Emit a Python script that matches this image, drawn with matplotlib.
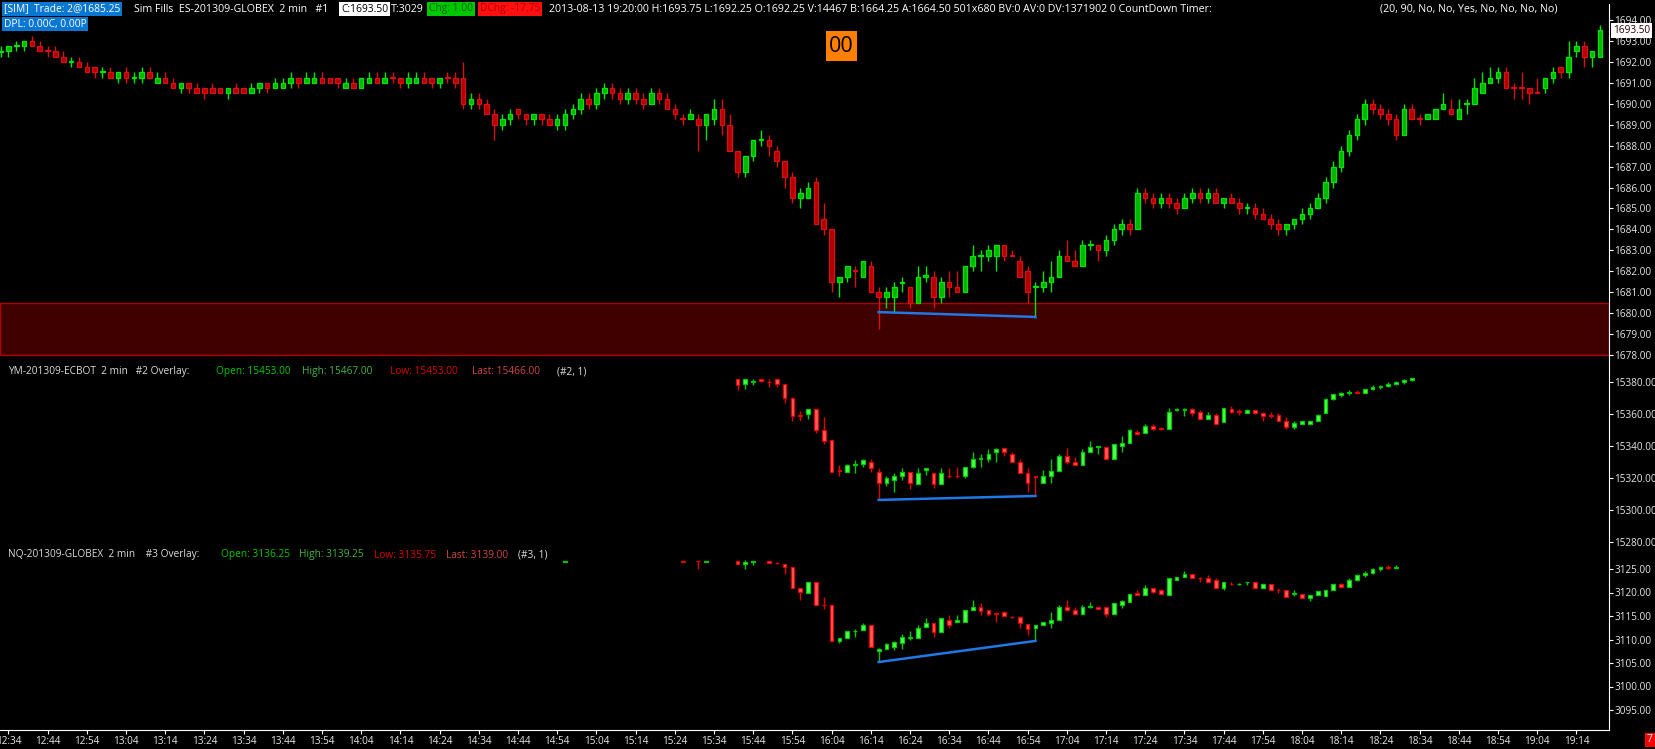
import numpy as np
import matplotlib
matplotlib.use('Agg')
import matplotlib.pyplot as plt
from matplotlib.patches import Rectangle

plt.rcParams['font.family'] = ['Open Sans', 'DejaVu Sans']

W, H = 1656, 749
DPI = 100

# ES bars, index 0 = 12:32, one bar every 2 minutes
es_open = [
    1692.45, 1692.50, 1692.75, 1692.75, 1693.00, 1692.75, 1692.55, 1692.50, 1692.25, 1692.00,
    1692.00, 1691.75, 1691.75, 1691.50, 1691.50, 1691.25, 1691.50, 1691.25, 1691.25, 1691.50,
    1691.00, 1691.25, 1691.00, 1690.75, 1691.00, 1690.75, 1690.75, 1690.75, 1690.75, 1690.50,
    1690.75, 1690.75, 1690.50, 1690.75, 1691.00, 1690.75, 1690.75, 1691.00, 1691.25, 1691.00,
    1691.00, 1691.25, 1691.25, 1691.25, 1690.75, 1691.00, 1690.75, 1691.00, 1691.25, 1691.00,
    1691.30, 1691.25, 1691.00, 1691.00, 1691.25, 1691.25, 1691.00, 1691.30, 1691.25, 1691.25,
    1690.00, 1690.25, 1690.00, 1689.50, 1689.00, 1689.25, 1689.75, 1689.50, 1689.25, 1689.50,
    1689.25, 1689.00, 1689.00, 1689.50, 1689.75, 1690.25, 1690.00, 1690.50, 1690.75, 1690.50,
    1690.25, 1690.50, 1690.25, 1690.00, 1690.50, 1690.25, 1689.75, 1689.30, 1689.25, 1689.25,
    1689.00, 1689.25, 1689.75, 1689.00, 1687.75, 1686.75, 1687.50, 1688.25, 1688.25, 1687.75,
    1687.25, 1686.50, 1685.50, 1685.50, 1686.25, 1684.50, 1684.00, 1681.50, 1681.75, 1682.05,
    1681.75, 1682.25, 1681.00, 1680.75, 1680.75, 1681.45, 1681.25, 1680.50, 1681.75, 1681.75,
    1680.75, 1681.50, 1681.25, 1681.00, 1682.25, 1682.75, 1682.75, 1682.75, 1683.25, 1682.80,
    1682.50, 1682.00, 1681.25, 1681.25, 1681.50, 1681.75, 1682.75, 1682.50, 1682.25, 1683.25,
    1683.25, 1683.00, 1683.50, 1684.00, 1684.25, 1684.00, 1685.75, 1685.50, 1685.25, 1685.50,
    1685.25, 1685.00, 1685.50, 1685.75, 1685.50, 1685.75, 1685.25, 1685.50, 1685.25, 1685.00,
    1685.00, 1684.75, 1684.50, 1684.25, 1684.00, 1684.25, 1684.50, 1684.75, 1685.00, 1685.50,
    1686.25, 1687.00, 1687.75, 1688.50, 1689.25, 1690.00, 1689.75, 1689.50, 1689.25, 1688.50,
    1689.75, 1689.30, 1689.25, 1689.25, 1689.75, 1689.75, 1689.25, 1690.00, 1690.00, 1690.50,
    1691.00, 1691.25, 1691.50, 1690.80, 1690.80, 1690.75, 1690.55, 1690.75, 1691.25, 1691.75,
    1691.50, 1692.50, 1692.75, 1692.25, 1692.25]
es_high = [
    1692.75, 1692.75, 1693.00, 1693.00, 1693.25, 1693.00, 1692.75, 1692.75, 1692.50, 1692.25,
    1692.25, 1692.00, 1691.75, 1691.75, 1691.75, 1691.50, 1691.75, 1691.50, 1691.75, 1691.75,
    1691.50, 1691.50, 1691.25, 1691.00, 1691.00, 1691.00, 1690.75, 1691.00, 1690.75, 1690.75,
    1691.00, 1690.75, 1691.00, 1691.00, 1691.00, 1691.25, 1691.25, 1691.50, 1691.25, 1691.50,
    1691.50, 1691.50, 1691.25, 1691.25, 1691.25, 1691.25, 1691.25, 1691.50, 1691.50, 1691.50,
    1691.50, 1691.25, 1691.50, 1691.50, 1691.50, 1691.25, 1691.25, 1691.50, 1691.50, 1692.00,
    1690.50, 1690.50, 1690.25, 1689.75, 1689.50, 1689.75, 1689.75, 1689.50, 1689.50, 1689.50,
    1689.50, 1689.50, 1689.75, 1690.00, 1690.50, 1690.50, 1690.75, 1691.00, 1691.00, 1690.75,
    1690.75, 1690.75, 1690.50, 1690.75, 1690.75, 1690.50, 1690.00, 1689.50, 1689.75, 1689.50,
    1689.50, 1690.25, 1690.25, 1689.50, 1687.75, 1687.50, 1688.25, 1688.75, 1688.50, 1688.00,
    1687.25, 1686.75, 1686.00, 1686.25, 1686.50, 1685.25, 1684.00, 1681.75, 1682.25, 1682.25,
    1682.50, 1682.50, 1681.25, 1681.25, 1681.50, 1681.75, 1681.25, 1682.25, 1682.25, 1682.00,
    1681.75, 1682.00, 1682.00, 1682.25, 1683.25, 1683.00, 1683.25, 1683.25, 1683.25, 1683.00,
    1682.75, 1682.25, 1681.50, 1682.00, 1682.50, 1683.00, 1683.50, 1683.00, 1683.50, 1683.50,
    1683.25, 1683.75, 1684.25, 1684.50, 1684.50, 1686.00, 1686.00, 1685.75, 1685.75, 1685.75,
    1685.50, 1685.75, 1686.00, 1686.00, 1686.00, 1686.00, 1685.50, 1685.75, 1685.50, 1685.25,
    1685.25, 1685.00, 1684.75, 1684.50, 1684.25, 1684.50, 1685.00, 1685.25, 1685.75, 1686.50,
    1687.25, 1688.00, 1688.75, 1689.50, 1690.25, 1690.25, 1690.00, 1689.75, 1689.50, 1690.00,
    1690.00, 1689.50, 1689.50, 1689.75, 1690.50, 1690.25, 1690.25, 1690.25, 1691.25, 1691.50,
    1691.75, 1691.75, 1691.75, 1691.00, 1691.50, 1690.75, 1691.25, 1691.25, 1691.75, 1691.75,
    1693.00, 1693.00, 1693.00, 1692.50, 1693.75]
es_low = [
    1692.25, 1692.25, 1692.50, 1692.50, 1692.75, 1692.50, 1692.25, 1692.25, 1692.00, 1691.75,
    1691.75, 1691.50, 1691.25, 1691.25, 1691.25, 1691.00, 1691.00, 1691.00, 1691.00, 1691.25,
    1691.00, 1691.00, 1690.75, 1690.50, 1690.50, 1690.50, 1690.25, 1690.50, 1690.50, 1690.25,
    1690.50, 1690.50, 1690.50, 1690.50, 1690.50, 1690.75, 1690.75, 1690.75, 1690.75, 1691.00,
    1691.00, 1691.00, 1691.00, 1690.75, 1690.75, 1690.75, 1690.75, 1691.00, 1691.00, 1691.00,
    1691.00, 1690.75, 1690.75, 1691.00, 1691.00, 1690.75, 1690.75, 1691.00, 1690.75, 1689.75,
    1689.75, 1689.75, 1689.50, 1688.25, 1688.75, 1689.00, 1689.25, 1689.00, 1689.00, 1689.00,
    1689.00, 1688.75, 1688.75, 1689.25, 1689.50, 1689.75, 1689.75, 1690.25, 1690.25, 1690.00,
    1690.00, 1690.00, 1689.75, 1690.00, 1690.00, 1689.75, 1689.25, 1689.00, 1689.25, 1687.75,
    1688.25, 1689.00, 1688.50, 1687.75, 1686.50, 1686.50, 1687.25, 1688.00, 1687.50, 1687.00,
    1686.00, 1685.25, 1685.00, 1685.50, 1684.25, 1683.75, 1681.00, 1680.75, 1681.50, 1681.25,
    1681.75, 1681.00, 1679.25, 1680.25, 1680.00, 1681.00, 1680.25, 1680.50, 1681.50, 1680.25,
    1680.50, 1680.75, 1681.00, 1681.00, 1682.00, 1682.00, 1682.50, 1682.00, 1682.50, 1682.75,
    1681.75, 1680.50, 1679.75, 1681.00, 1681.00, 1681.75, 1682.50, 1682.25, 1682.25, 1683.00,
    1682.50, 1682.75, 1683.25, 1683.75, 1683.75, 1684.00, 1685.25, 1685.00, 1685.00, 1685.00,
    1684.75, 1685.00, 1685.25, 1685.25, 1685.25, 1685.25, 1685.00, 1685.25, 1684.75, 1684.75,
    1684.50, 1684.50, 1684.00, 1683.75, 1683.75, 1684.00, 1684.25, 1684.50, 1685.00, 1685.25,
    1686.00, 1686.75, 1687.50, 1688.25, 1689.00, 1689.50, 1689.25, 1689.00, 1688.25, 1688.50,
    1689.25, 1689.00, 1689.25, 1689.25, 1689.75, 1689.50, 1689.25, 1689.50, 1690.00, 1690.50,
    1691.00, 1691.00, 1690.75, 1690.25, 1690.25, 1690.00, 1690.50, 1690.50, 1691.00, 1691.25,
    1691.25, 1692.25, 1691.75, 1691.75, 1692.25]
es_close = [
    1692.50, 1692.75, 1692.80, 1693.00, 1692.75, 1692.50, 1692.50, 1692.25, 1692.00, 1692.05,
    1691.75, 1691.50, 1691.50, 1691.55, 1691.25, 1691.50, 1691.25, 1691.30, 1691.50, 1691.25,
    1691.25, 1691.00, 1690.75, 1691.00, 1690.75, 1690.50, 1690.50, 1690.50, 1690.50, 1690.75,
    1690.50, 1690.50, 1690.75, 1691.00, 1690.75, 1691.00, 1691.00, 1691.25, 1691.00, 1691.25,
    1691.25, 1691.00, 1691.00, 1691.00, 1691.00, 1690.75, 1691.25, 1691.25, 1691.00, 1691.25,
    1691.25, 1691.00, 1691.25, 1691.25, 1691.00, 1691.00, 1691.25, 1691.25, 1691.00, 1690.00,
    1690.25, 1690.00, 1689.50, 1689.00, 1689.25, 1689.50, 1689.50, 1689.25, 1689.50, 1689.25,
    1689.00, 1689.25, 1689.50, 1689.75, 1690.25, 1690.00, 1690.50, 1690.75, 1690.50, 1690.25,
    1690.50, 1690.25, 1690.00, 1690.50, 1690.25, 1689.75, 1689.50, 1689.25, 1689.50, 1689.00,
    1689.50, 1689.75, 1689.00, 1687.75, 1686.75, 1687.50, 1688.25, 1688.30, 1688.00, 1687.25,
    1686.50, 1685.50, 1685.75, 1686.00, 1684.25, 1684.00, 1681.50, 1681.75, 1682.25, 1682.00,
    1682.50, 1681.00, 1680.75, 1681.00, 1681.25, 1681.50, 1680.50, 1681.75, 1681.80, 1680.75,
    1681.50, 1681.25, 1681.00, 1682.25, 1682.75, 1682.80, 1683.00, 1683.25, 1682.75, 1682.75,
    1681.75, 1681.00, 1681.30, 1681.50, 1681.75, 1682.75, 1682.50, 1682.25, 1683.25, 1683.30,
    1683.00, 1683.50, 1684.00, 1684.25, 1684.00, 1685.75, 1685.50, 1685.25, 1685.50, 1685.25,
    1685.00, 1685.50, 1685.75, 1685.50, 1685.75, 1685.25, 1685.50, 1685.25, 1685.00, 1685.05,
    1684.75, 1684.50, 1684.25, 1684.00, 1684.25, 1684.50, 1684.75, 1685.00, 1685.50, 1686.25,
    1687.00, 1687.75, 1688.50, 1689.25, 1690.00, 1689.75, 1689.50, 1689.25, 1688.50, 1689.75,
    1689.25, 1689.25, 1689.50, 1689.75, 1690.00, 1689.50, 1689.75, 1690.05, 1690.75, 1691.00,
    1691.25, 1691.50, 1690.75, 1690.75, 1690.75, 1690.50, 1690.50, 1691.25, 1691.50, 1691.50,
    1692.25, 1692.75, 1692.25, 1692.50, 1693.50]

# YM overlay, bars 94..180
ym_start = 94
ym_open = [
    15382, 15379, 15380, 15382, 15380.5, 15382, 15379, 15370, 15359.5, 15360,
    15363, 15350, 15344, 15325, 15324, 15328, 15329, 15330, 15324, 15317,
    15319, 15321, 15324, 15316, 15325, 15323, 15316, 15321.5, 15321.5, 15321,
    15327, 15332, 15332, 15336, 15339, 15335, 15330, 15323, 15321, 15317,
    15321, 15324.5, 15334, 15330, 15328, 15336, 15339.5, 15339.5, 15332, 15340,
    15342, 15349, 15348, 15352.5, 15351.5, 15351, 15362.5, 15362.5, 15363, 15361.5,
    15357, 15359.5, 15355, 15363, 15362, 15361, 15362.5, 15360.5, 15359.5, 15359.5,
    15356, 15352, 15354, 15354, 15356, 15360.5, 15369.5, 15372, 15373, 15374,
    15373.5, 15375.5, 15377, 15377.5, 15379, 15380.5, 15381.5]
ym_high = [
    15382, 15382, 15382, 15382, 15382, 15382, 15379, 15371, 15362, 15363,
    15363, 15358, 15344, 15328, 15329, 15331, 15332, 15332, 15326, 15321,
    15323, 15326, 15324, 15326, 15326, 15323, 15326, 15326, 15327, 15327,
    15336, 15335, 15338, 15339, 15339, 15336, 15332, 15326, 15321, 15325,
    15332, 15335, 15339, 15333, 15338, 15343, 15340, 15339.5, 15341, 15346,
    15351, 15350, 15354, 15354, 15352, 15364, 15364, 15364, 15364, 15362.5,
    15361.5, 15360.5, 15364, 15365, 15363, 15363, 15362.5, 15361.5, 15361.5, 15360.5,
    15358.5, 15356, 15356, 15356, 15360, 15370, 15372.5, 15374, 15375, 15375,
    15376, 15378, 15378, 15380, 15381, 15382, 15383]
ym_low = [
    15375, 15376, 15378, 15380, 15377, 15377, 15367, 15356, 15356, 15357,
    15348, 15341, 15324, 15321, 15324, 15323, 15327, 15324, 15306, 15315,
    15311, 15319, 15313, 15316, 15322, 15314, 15316, 15320, 15320, 15320,
    15326, 15327, 15330, 15330, 15334, 15330, 15323, 15311, 15309, 15317,
    15317, 15324.5, 15329, 15328, 15328, 15336, 15335, 15331, 15332, 15336,
    15342, 15347, 15348, 15350, 15350, 15351, 15362, 15359, 15359, 15357,
    15357, 15354, 15355, 15360.5, 15359.5, 15361, 15360, 15356, 15357.5, 15356,
    15350.5, 15351, 15354, 15354, 15356, 15360.5, 15369, 15371, 15372, 15373,
    15373, 15375, 15376, 15377, 15378, 15379, 15381]
ym_close = [
    15378, 15382, 15381, 15381, 15380, 15379, 15370, 15359, 15359, 15363,
    15350, 15343, 15324, 15324.5, 15328, 15329, 15331, 15326, 15317, 15320,
    15321, 15324, 15317, 15323, 15326, 15316, 15323, 15321, 15321, 15327,
    15332, 15332.5, 15335, 15338, 15336, 15330, 15323, 15317, 15320.5, 15321,
    15324.5, 15334, 15330, 15328, 15336, 15339.5, 15340, 15332, 15341, 15342,
    15350, 15347.5, 15352.5, 15351, 15351, 15361.5, 15363, 15363, 15360.5, 15357,
    15359.5, 15354, 15364, 15361.5, 15361.5, 15362.5, 15361, 15359, 15359, 15356,
    15352, 15354.5, 15355.5, 15356, 15359.5, 15369.5, 15372.5, 15373, 15374, 15373.5,
    15375.5, 15377, 15377.5, 15379, 15380.5, 15381.5, 15382.5]

# NQ overlay (a few early bars sit at the top edge of the pane)
nq_x = [72, 87, 89, 90, 94, 95, 96] + list(range(98, 179))
nq_open = [
    3126.50, 3126.75, 3126.75, 3126.50, 3126.75, 3126.00, 3126.50,
    3126.75, 3126.25, 3126.00, 3125.50, 3121.00, 3120.00, 3122.25, 3117.30, 3117.25, 3109.75,
    3110.25, 3111.75, 3112.00, 3113.00, 3107.50, 3108.00, 3108.50, 3109.25, 3110.40, 3110.25,
    3112.75, 3113.50, 3111.50, 3114.25, 3113.75, 3113.75, 3116.25, 3117.00, 3116.25, 3115.55,
    3115.75, 3114.80, 3114.75, 3113.25, 3112.50, 3113.00, 3113.50, 3114.25, 3117.00, 3116.25,
    3115.50, 3117.00, 3117.00, 3117.00, 3115.50, 3117.25, 3118.00, 3120.00, 3119.50, 3121.00,
    3120.50, 3119.50, 3122.75, 3123.25, 3124.00, 3123.05, 3123.00, 3122.75, 3121.00, 3121.80,
    3121.75, 3122.20, 3122.25, 3121.00, 3121.75, 3120.55, 3120.50, 3119.75, 3119.75, 3118.75,
    3119.50, 3119.25, 3120.50, 3121.75, 3121.25, 3122.75, 3123.75, 3124.25, 3125.00, 3125.50, 3125.25]
nq_high = [
    3126.75, 3126.75, 3126.75, 3126.75, 3126.75, 3127.00, 3126.75,
    3126.75, 3126.50, 3126.00, 3125.50, 3121.00, 3122.25, 3122.25, 3119.00, 3117.25, 3110.25,
    3111.75, 3112.25, 3113.50, 3113.00, 3108.25, 3109.25, 3109.75, 3111.25, 3111.75, 3113.00,
    3114.50, 3113.50, 3114.50, 3115.25, 3115.25, 3116.25, 3118.50, 3117.75, 3116.25, 3115.55,
    3116.00, 3115.00, 3114.75, 3113.25, 3113.00, 3113.75, 3115.75, 3117.25, 3118.50, 3117.00,
    3117.25, 3118.00, 3117.00, 3117.00, 3117.75, 3118.50, 3119.75, 3120.50, 3121.50, 3121.00,
    3120.75, 3123.00, 3123.25, 3124.50, 3124.00, 3123.25, 3123.75, 3123.00, 3122.25, 3122.25,
    3122.00, 3122.25, 3122.25, 3121.75, 3121.75, 3121.00, 3120.50, 3120.50, 3119.75, 3119.50,
    3120.25, 3120.50, 3121.75, 3122.00, 3123.00, 3124.00, 3124.50, 3125.25, 3125.50, 3125.75, 3125.75]
nq_low = [
    3126.50, 3126.50, 3125.00, 3126.50, 3126.00, 3125.00, 3125.75,
    3126.25, 3126.00, 3124.00, 3121.00, 3118.50, 3120.00, 3117.25, 3116.50, 3109.75, 3109.25,
    3110.25, 3110.50, 3112.00, 3108.50, 3105.25, 3108.00, 3107.75, 3108.00, 3110.00, 3110.25,
    3112.75, 3110.50, 3111.50, 3112.50, 3113.75, 3113.75, 3116.25, 3115.25, 3115.00, 3113.75,
    3115.00, 3114.50, 3112.50, 3111.00, 3109.75, 3113.00, 3112.50, 3114.25, 3116.00, 3115.50,
    3115.50, 3116.75, 3116.50, 3114.75, 3115.50, 3116.75, 3118.00, 3119.50, 3119.50, 3120.00,
    3119.75, 3119.50, 3122.75, 3123.25, 3123.00, 3122.25, 3122.25, 3121.00, 3120.50, 3121.50,
    3121.50, 3121.50, 3121.00, 3121.00, 3120.50, 3120.00, 3119.00, 3119.25, 3118.75, 3118.25,
    3119.50, 3119.25, 3120.50, 3121.00, 3121.25, 3122.50, 3123.25, 3124.00, 3124.50, 3125.00, 3125.25]
nq_close = [
    3126.75, 3126.50, 3126.70, 3126.75, 3126.00, 3126.50, 3126.75,
    3126.25, 3126.20, 3125.50, 3121.00, 3120.00, 3122.25, 3117.25, 3117.25, 3109.75, 3110.25,
    3111.75, 3111.80, 3113.00, 3108.50, 3108.00, 3109.00, 3109.50, 3110.50, 3110.45, 3112.50,
    3113.50, 3111.50, 3114.50, 3113.00, 3114.25, 3116.25, 3117.00, 3116.00, 3115.50, 3115.50,
    3115.00, 3114.75, 3113.50, 3112.25, 3113.00, 3113.75, 3114.25, 3117.00, 3116.25, 3115.50,
    3117.00, 3117.05, 3116.50, 3115.50, 3117.75, 3118.25, 3119.75, 3119.50, 3121.00, 3120.00,
    3119.75, 3123.00, 3123.25, 3124.00, 3123.00, 3123.00, 3122.25, 3121.00, 3122.25, 3121.75,
    3121.80, 3122.25, 3121.00, 3121.75, 3120.50, 3120.50, 3119.00, 3119.80, 3118.75, 3119.50,
    3120.25, 3120.50, 3121.75, 3121.25, 3122.75, 3123.75, 3124.25, 3125.00, 3125.50, 3125.25, 3125.50]

# divergence lines drawn on the chart
div_x = [112, 132]
es_div = [1680.05, 1679.82]
ym_div = [15306.2, 15308.7]
nq_div = [3105.2, 3109.7]

zone_lo, zone_hi = 1678.0, 1680.5

es_ticks = list(range(1678, 1695))
ym_ticks = [15280, 15300, 15320, 15340, 15360, 15380]
nq_ticks = [3095, 3100, 3105, 3110, 3115, 3120, 3125]


def candles(ax, x, o, h, l, c, width, up_face, up_edge, dn_face, dn_edge):
    x = np.asarray(x, float)
    o, h, l, c = (np.asarray(v, float) for v in (o, h, l, c))
    up = c >= o
    for m, face, edge in ((up, up_face, up_edge), (~up, dn_face, dn_edge)):
        ax.vlines(x[m], l[m], h[m], color=edge, lw=1, zorder=3)
        ax.bar(x[m], c[m] - o[m], bottom=o[m], width=width, color=face,
               edgecolor=edge, lw=0.9, zorder=4)


fig = plt.figure(figsize=(W / DPI, H / DPI), dpi=DPI, facecolor='black')

top_px, bot_px, right_px = 4, 730, 1609
rect = [0, (H - bot_px) / H, right_px / W, (bot_px - top_px) / H]
ax_es = fig.add_axes(rect, facecolor='black')
ax_ym = fig.add_axes(rect, sharex=ax_es, facecolor='none')
ax_nq = fig.add_axes(rect, sharex=ax_es, facecolor='none')


def set_scale(ax, ref, ref_px, px_per_unit, ticks):
    ax.set_ylim(ref - (bot_px - ref_px) / px_per_unit, ref + (ref_px - top_px) / px_per_unit)
    ax.yaxis.tick_right()
    ax.set_yticks(ticks)
    ax.set_yticklabels(['%.2f' % t for t in ticks])
    ax.tick_params(axis='y', colors='white', labelcolor='#e6e6e6', labelsize=7.2,
                   length=3, width=0.8, pad=1)
    for s in ax.spines.values():
        s.set_visible(False)


set_scale(ax_es, 1694, 20, 20.94, es_ticks)
set_scale(ax_ym, 15380, 382.3, 1.594, ym_ticks)
set_scale(ax_nq, 3125, 569, 4.7, nq_ticks)

ax_es.set_xlim(-0.56 / 7.84, (right_px - 0.56) / 7.84)
ax_es.spines['right'].set_visible(True)
ax_es.spines['bottom'].set_visible(True)
ax_es.spines['right'].set_color('white')
ax_es.spines['bottom'].set_color('white')

xt = np.arange(1, 202, 5)
ax_es.set_xticks(xt)
ax_es.set_xticklabels(['%d:%02d' % divmod(12 * 60 + 32 + 2 * i, 60) for i in xt])
ax_es.tick_params(axis='x', colors='white', labelcolor='#e6e6e6', labelsize=7.2,
                  length=3, width=0.8, pad=1)
for a in (ax_ym, ax_nq):
    a.tick_params(axis='x', bottom=False, labelbottom=False)

# support zone
ax_es.axhspan(zone_lo, zone_hi, facecolor='#400000', edgecolor='#b00000', lw=1, zorder=1)

es_x = np.arange(len(es_open))
candles(ax_es, es_x, es_open, es_high, es_low, es_close, 0.58,
        '#00b400', '#00e600', '#b40000', '#d81010')
ym_x = np.arange(ym_start, ym_start + len(ym_open))
candles(ax_ym, ym_x, ym_open, ym_high, ym_low, ym_close, 0.48,
        '#50ff50', '#00c800', '#ff5a5a', '#e00000')
candles(ax_nq, nq_x, nq_open, nq_high, nq_low, nq_close, 0.48,
        '#50ff50', '#00c800', '#ff5a5a', '#e00000')

blue = '#1e78e6'
ax_es.plot(div_x, es_div, color=blue, lw=1.8, zorder=5)
ax_ym.plot(div_x, ym_div, color=blue, lw=1.8, zorder=5)
ax_nq.plot(div_x, nq_div, color=blue, lw=1.8, zorder=5)


def ftext(x, y, s, color='white', bg=None, size=7.3, **kw):
    box = None
    if bg is not None:
        box = dict(facecolor=bg, edgecolor='none', pad=1.2)
    return fig.text(x / W, 1 - y / H, s, color=color, fontsize=size, va='center',
                    ha=kw.pop('ha', 'left'), bbox=box, **kw)


# header lines
hs = 7.7
ftext(4, 9, '[SIM]  Trade: 2@1685.25', bg='#0a78d2', size=7.4)
ftext(134, 9, 'Sim Fills  ES-201309-GLOBEX  2 min   #1', size=hs)
ftext(341, 9, 'C:1693.50', color='black', bg='white', size=7.4)
ftext(391, 9, 'T:3029', size=hs)
ftext(429, 9, 'Chg: 1.00', color='#006400', bg='#00c800', size=7.4)
ftext(480, 9, 'DChg: -17.75', color='#b40000', bg='#ff1010', size=7.4)
ftext(549, 9, '2013-08-13 19:20:00 H:1693.75 L:1692.25 O:1692.25 V:14467 B:1664.25 '
              'A:1664.50 501x680 BV:0 AV:0 DV:1371902 0 CountDown Timer:', size=hs)
ftext(1380, 9, '(20, 90, No, No, Yes, No, No, No, No)', size=hs)
ftext(4, 24, 'DPL: 0.00C, 0.00P', bg='#0a78d2', size=7.4)

# countdown box
fig.patches.append(Rectangle((826 / W, 1 - 61 / H), 31 / W, 30 / H, transform=fig.transFigure,
                             facecolor='#ff8000', edgecolor='none'))
ftext(841.5, 46, '00', color='black', size=15.5, ha='center')

# overlay labels
label_gray = '#dcdcdc'
ym_parts = [(8, 'YM-201309-ECBOT  2 min   #2 Overlay:', label_gray),
            (216, 'Open: 15453.00', '#00c800'), (302, 'High: 15467.00', '#46b446'),
            (390, 'Low: 15453.00', '#dc0000'), (472, 'Last: 15466.00', '#d24646'),
            (557, '(#2, 1)', label_gray)]
nq_parts = [(8, 'NQ-201309-GLOBEX  2 min    #3 Overlay:', label_gray),
            (221, 'Open: 3136.25', '#00c800'), (299, 'High: 3139.25', '#46b446'),
            (374, 'Low: 3135.75', '#dc0000'), (446, 'Last: 3139.00', '#d24646'),
            (518, '(#3, 1)', label_gray)]
for x, s, col in ym_parts:
    ftext(x, 372, s, color=col)
for x, s, col in nq_parts:
    ftext(x, 555, s, color=col)

# last price marker and bar counter
ftext(1613, 30.5, '1693.50', color='#300000', bg='white', size=7.2)
ftext(1650, 740, '7', color='white', bg='#ff0000', size=7.5, ha='center')

fig.savefig('out.png', dpi=DPI, facecolor='black')
